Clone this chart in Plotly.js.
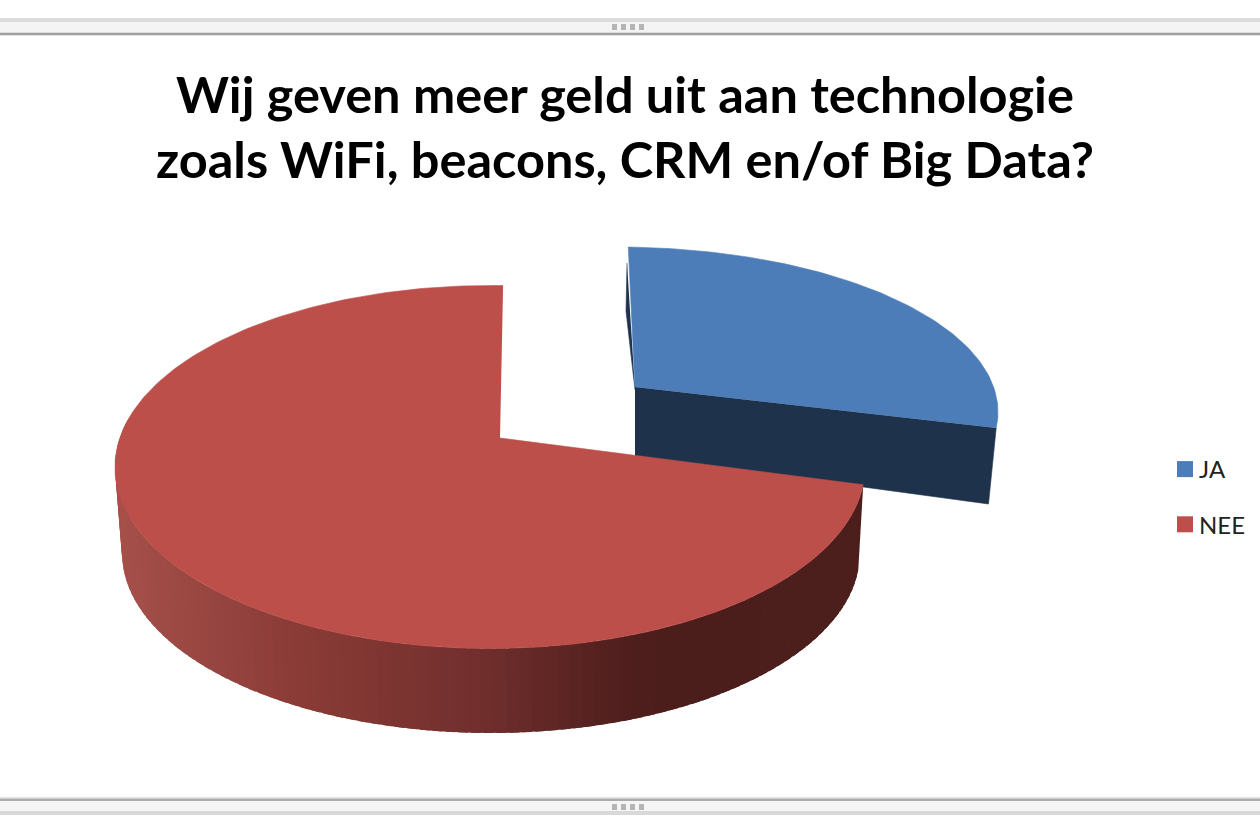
<!DOCTYPE html>
<html><head><meta charset="utf-8">
<script src="https://cdn.plot.ly/plotly-3.0.1.min.js"></script>
<style>html,body{margin:0;padding:0;background:#fff}</style></head>
<body><div id="chart" style="width:1260px;height:840px"></div>
<script>
const categories = ['JA', 'NEE'];
const shares = [26, 74];
const sliceColors = ['#4C7DB8', '#BD4F4B'];
const titleLines = ['Wij geven meer geld uit aan technologie', 'zoals WiFi, beacons, CRM en/of Big Data?'];

// view geometry of the tilted pie (perspective makes each part its own ellipse)
const START = 2, SWEEP_JA = shares[0] / (shares[0] + shares[1]) * 360;
const END_JA = START + SWEEP_JA;
const blueTop = {cx: 617, cy: 412, rx: 381, ry: 165, ax: 635, ay: 387};
const redTop  = {cx: 490, cy: 467, rx: 375, ry: 181.5, ax: 500, ay: 438};
const redBase = {cx: 491, cy: 553, rx: 369, ry: 180};
const pt = (e, d) => {const r = d * Math.PI / 180; return [e.cx + e.rx * Math.sin(r), e.cy - e.ry * Math.cos(r)];};
const arc = (e, a, b, step) => {const o = []; const n = Math.ceil(Math.abs(b - a) / step); for (let i = 0; i <= n; i++) o.push(pt(e, a + (b - a) * i / n)); return o;};
const poly = (pts, color, lw) => ({type: 'scatter', mode: 'lines', x: pts.map(p => p[0]), y: pts.map(p => p[1]), fill: 'toself', fillcolor: color, line: {color: color, width: lw === undefined ? 0.6 : lw}, hoverinfo: 'skip', showlegend: false});

const wallStops = [[122, [166, 80, 74]], [300, [138, 59, 54]], [480, [113, 47, 45]], [610, [82, 32, 30]], [660, [75, 29, 27]], [860, [76, 30, 28]]];
function wallColor(x) {
  for (let i = 1; i < wallStops.length; i++) {
    if (x <= wallStops[i][0]) {
      const [x0, c0] = wallStops[i - 1], [x1, c1] = wallStops[i];
      const t = Math.max(0, (x - x0) / (x1 - x0));
      return 'rgb(' + c0.map((c, k) => Math.round(c + (c1[k] - c) * t)).join(',') + ')';
    }
  }
  return 'rgb(76,30,28)';
}

const traces = [];
const blueEnd = pt(blueTop, END_JA);
traces.push(poly([[blueTop.ax, blueTop.ay], blueEnd, [988.5, 504], [635, 456]], '#1F324C'));
traces.push(poly([[627, 263], [626, 311], [blueTop.ax, blueTop.ay + 3]], '#1F324C'));
traces.push(poly([[blueTop.ax, blueTop.ay]].concat(arc(blueTop, START - 0.3, END_JA, 1)), sliceColors[0]));
const STRIP = 2;
for (let d = END_JA; d < 285; d += STRIP) {
  const a = d, b = Math.min(d + STRIP + 1.5, 286);   // strips overlap, so no seams show between them
  const pts = arc(redTop, a, b, 0.5).concat(arc(redBase, b, a, 0.5));
  const c = wallColor(pt(redBase, a + STRIP / 2)[0]);
  traces.push(poly(pts, c, 0));
}
traces.push(poly([[redTop.ax, redTop.ay]].concat(arc(redTop, END_JA, 360 + START, 1)), sliceColors[1]));
categories.forEach((name, i) => traces.push({type: 'scatter', mode: 'markers', x: [-100], y: [-100], name: name, legendgroup: name, marker: {symbol: 'square', size: 18, color: sliceColors[i]}, hoverinfo: 'skip', showlegend: true}));

const rect = (y0, y1, color) => ({type: 'rect', xref: 'paper', yref: 'y', x0: 0, x1: 1, y0, y1, fillcolor: color, line: {width: 0}, layer: 'below'});
const shapes = [
  rect(18, 22, '#dcdcdc'), rect(22, 32, '#f4f4f4'), rect(32, 33, '#dddddd'), rect(33, 35, '#a0a0a0'), rect(35, 36, '#e0e0e0'),
  rect(797, 798.5, '#e6e6e6'), rect(798.5, 801, '#ababab'), rect(801, 811, '#f5f5f5'), rect(811, 815, '#d8d8d8')
];
[612, 621, 630, 639].forEach(x => {
  [[24, 30], [804, 810]].forEach(([y0, y1]) => shapes.push({type: 'rect', xref: 'x', yref: 'y', x0: x, x1: x + 5, y0, y1, fillcolor: '#b5b5b5', line: {width: 0}, layer: 'below'}));
});

const layout = {
  width: 1260, height: 840, margin: {l: 0, r: 0, t: 0, b: 0, pad: 0},
  paper_bgcolor: '#fff', plot_bgcolor: '#fff',
  xaxis: {range: [0, 1260], visible: false, fixedrange: true},
  yaxis: {range: [840, 0], visible: false, fixedrange: true},
  title: {text: titleLines.join('<br>'), x: 0.496, xanchor: 'center', y: 0.866, yanchor: 'top', font: {family: 'Lato, sans-serif', size: 50.5, color: '#000', weight: 'bold'}},
  legend: {x: 1165 / 1260, xanchor: 'left', y: 1 - 447 / 840, yanchor: 'top', traceorder: 'grouped', tracegroupgap: 21, font: {family: 'Lato, sans-serif', size: 24, color: '#222'}, bgcolor: 'rgba(0,0,0,0)'},
  shapes, showlegend: true
};
Plotly.newPlot('chart', traces, layout, {displayModeBar: false, staticPlot: true}).then(() => {
  document.querySelectorAll('.legendtext').forEach(t => t.setAttribute('x', 34));
});
</script></body></html>
